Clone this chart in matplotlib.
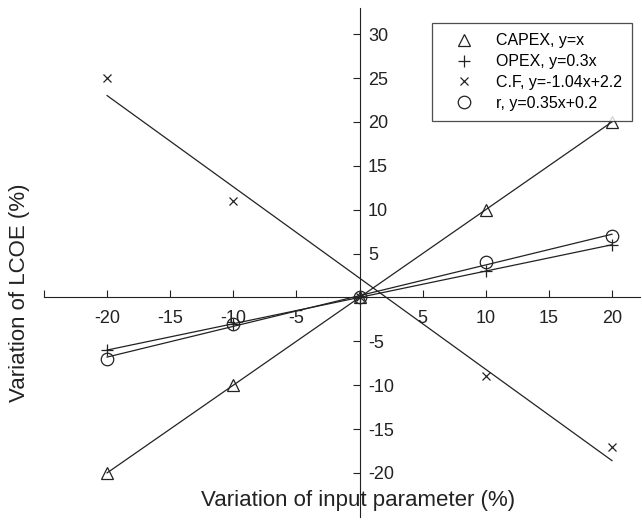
import numpy as np
import matplotlib
matplotlib.use("Agg")
import matplotlib.pyplot as plt

plt.rcParams['font.family'] = ['Liberation Sans', 'DejaVu Sans']
plt.rcParams['axes.unicode_minus'] = False

x_vals = [-20, -10, 0, 10, 20]
capex = [-20, -10, 0, 10, 20]
opex = [-6, -3, 0, 3, 6]
cf = [25, 11, 0, -9, -17]
r_vals = [-7, -3, 0, 4, 7]

fits = [
    ("CAPEX, y=x", capex, '^', 1.0, 0.0),
    ("OPEX, y=0.3x", opex, '+', 0.3, 0.0),
    ("C.F, y=-1.04x+2.2", cf, 'x', -1.04, 2.2),
    ("r, y=0.35x+0.2", r_vals, 'o', 0.35, 0.2),
]

col = '#222222'
fig = plt.figure(figsize=(6.42, 5.22), dpi=100)
ax = fig.add_axes([0.0685, 0.010, 0.928, 0.975])

xs = np.array([-20, 20])
handles = []
for label, ys, mk, a, b in fits:
    ax.plot(xs, a * xs + b, color=col, lw=0.9)
    h, = ax.plot(x_vals, ys, linestyle='none', marker=mk, color=col,
                 markerfacecolor='none', markersize=9 if mk != 'x' else 6,
                 markeredgewidth=0.9, label=label)
    handles.append(h)

ax.set_xlim(-25, 22.2)
ax.set_ylim(-25, 33)

for s in ['top', 'left']:
    ax.spines[s].set_visible(False)
ax.spines['bottom'].set_position(('data', 0))
ax.spines['right'].set_position(('data', 0))
ax.spines['bottom'].set_color(col)
ax.spines['right'].set_color(col)

ax.yaxis.tick_right()
ax.set_xticks([-25, -20, -15, -10, -5, 5, 10, 15, 20],
              ['', '-20', '-15', '-10', '-5', '5', '10', '15', '20'])
ax.set_yticks([-20, -15, -10, -5, 5, 10, 15, 20, 25, 30])
ax.tick_params(axis='x', direction='in', length=5, labelsize=13, pad=9, colors=col)
ax.tick_params(axis='y', direction='in', length=5, labelsize=13, pad=6, colors=col)

fig.text(0.031, 0.44, 'Variation of LCOE (%)', rotation=90, ha='center', va='center',
         fontsize=16, color=col)
fig.text(0.558, 0.042, 'Variation of input parameter (%)', ha='center', va='center',
         fontsize=16, color=col)

leg = ax.legend(handles=handles, loc='upper left', bbox_to_anchor=(0.651, 0.97),
                borderaxespad=0, fontsize=11.5, frameon=True, fancybox=False,
                edgecolor=col, handletextpad=0.67, borderpad=0.65,
                labelspacing=0.36, handlelength=2.7)
leg.get_frame().set_linewidth(0.9)

fig.savefig('out.png', dpi=100, facecolor='white')
